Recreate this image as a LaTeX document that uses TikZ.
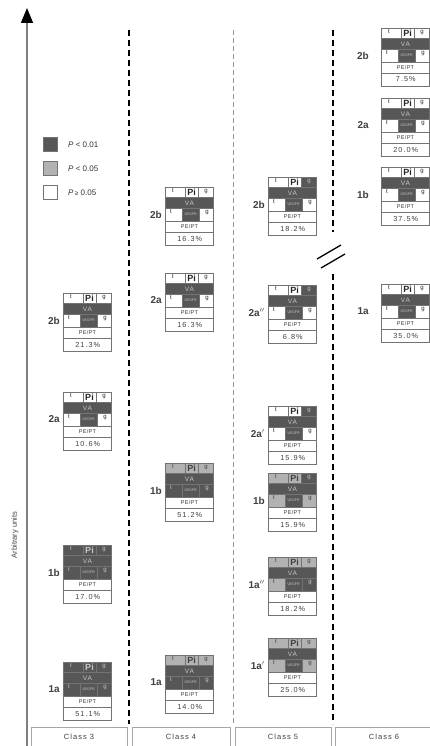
\documentclass[tikz,border=0pt]{standalone}
\usepackage{fontspec}
\setmainfont{Liberation Sans}
\newfontfamily\spfont[LetterSpace=14]{Liberation Sans}
\newfontfamily\pefont[LetterSpace=6]{Liberation Sans}
\usetikzlibrary{arrows.meta}
\colorlet{cD}{black!66}
\colorlet{cL}{black!30}
\colorlet{cW}{white}
\colorlet{xD}{black!22}
\colorlet{xL}{black!75}
\colorlet{xW}{black!85}
\colorlet{bord}{black!55}
\tikzset{
  celltxt/.style={inner sep=0pt, font=\fontsize{6}{6}\selectfont},
  pitxt/.style={inner sep=0pt, font=\bfseries\fontsize{9}{9}\selectfont},
  vegtxt/.style={inner sep=0pt, font=\fontsize{3.6}{3.6}\selectfont},
  vatxt/.style={inner sep=0pt, font=\spfont\fontsize{6.5}{6.5}\selectfont},
  petxt/.style={inner sep=0pt, font=\pefont\fontsize{5.5}{5.5}\selectfont, text=black!80},
  pcttxt/.style={inner sep=0pt, font=\spfont\fontsize{7.3}{7.3}\selectfont, text=black!75},
  labtxt/.style={inner sep=0pt, anchor=east, font=\bfseries\fontsize{10}{10}\selectfont, text=black!75},
  heavydash/.style={line width=1.7pt, dash pattern=on 6pt off 4pt},
  lightdash/.style={line width=0.7pt, black!40, dash pattern=on 5pt off 3pt},
  classbox/.style={draw=black!35, line width=0.6pt, inner sep=0pt},
  classtxt/.style={font=\spfont\fontsize{7.5}{7.5}\selectfont, text=black!75},
  legtxt/.style={anchor=west, inner sep=0pt, font=\fontsize{8}{8}\selectfont, text=black!80},
}
\def\lgap{3}
\newcommand\gbox[5]{\def\gname{#1}\def\gx{#2}\def\gy{#3}\def\glab{#4}\def\gpct{#5}\gboxcolors}
\newcommand\gboxcolors[7]{%
  \begin{scope}[shift={(\gx,\gy)}]
    \path[fill=c#1] (0,0) rectangle (20,10);
    \path[fill=c#2] (20,0) rectangle (33,10);
    \path[fill=c#3] (33,0) rectangle (48,10);
    \path[fill=c#4] (0,10) rectangle (48,21);
    \path[fill=c#5] (0,21) rectangle (17,34);
    \path[fill=c#6] (17,21) rectangle (34,34);
    \path[fill=c#7] (34,21) rectangle (48,34);
    \draw[bord, line width=0.5pt] (0,0) rectangle (48,58)
      (0,10) -- (48,10) (0,21) -- (48,21) (0,34) -- (48,34) (0,45) -- (48,45)
      (20,0) rectangle (33,10) (17,21) rectangle (34,34);
    \node[celltxt, text=x#1] (\gname-t1) at (8,4) {t};
    \node[pitxt, text=x#2] (\gname-pi) at (26.5,5.5) {Pi};
    \node[celltxt, text=x#3] (\gname-g1) at (41,4.5) {g};
    \node[vatxt, text=x#4] (\gname-va) at (24.5,15.8) {VA};
    \node[celltxt, text=x#5] (\gname-t3) at (6,25) {t};
    \node[vegtxt, text=x#6] (\gname-ve) at (25.5,27.5) {VEGFR};
    \node[celltxt, text=x#7] (\gname-g3) at (42,26) {g};
    \node[petxt] (\gname-pe) at (24.5,39.7) {PE/PT};
    \node[pcttxt] (\gname-pc) at (24.8,51.5) {\gpct\%};
    \node[labtxt] (\gname-lab) at (-\lgap,27.5) {\glab};
  \end{scope}}
\begin{document}
\begin{tikzpicture}[x=1pt,y=-1pt]
\useasboundingbox (0,0) rectangle (430,746);
% axis
\coordinate (axb) at (27,746);
\coordinate (axt) at (27,8);
\draw[black!50, line width=1.6pt, -{Triangle[length=15pt,width=12pt,color=black,fill=black]}] (axb) -- (axt);
\node[rotate=90, inner sep=0pt, font=\fontsize{7.5}{7.5}\selectfont, text=black!75] (ylab) at (15,535) {Arbitrary units};
% legend
\node[draw=black!55, fill=cD, minimum size=14pt, inner sep=0pt] (lg1) at (50,144) {};
\node[draw=black!55, fill=cL, minimum size=14pt, inner sep=0pt] (lg2) at (50,168) {};
\node[draw=black!55, fill=white, minimum size=14pt, inner sep=0pt] (lg3) at (50,192) {};
\node[legtxt] (lt1) at (68,145) {\textit{P} < 0.01};
\node[legtxt] (lt2) at (68,169) {\textit{P} < 0.05};
\node[legtxt] (lt3) at (68,193) {\textit{P}\,{\fontsize{6.5}{6.5}\selectfont≥} 0.05};
% separators
\coordinate (d1t) at (129,30); \coordinate (d1b) at (129,724);
\coordinate (d2t) at (233,30); \coordinate (d2b) at (233,724);
\coordinate (d3t) at (333,30); \coordinate (d3m) at (333,232);
\coordinate (d3n) at (333,274); \coordinate (d3b) at (333,724);
\draw[heavydash] (d1t) -- (d1b);
\draw[lightdash] (d2t) -- (d2b);
\draw[heavydash] (d3t) -- (d3m);
\draw[heavydash] (d3n) -- (d3b);
\coordinate (br1a) at (317,259); \coordinate (br1b) at (341,245);
\coordinate (br2a) at (321,268); \coordinate (br2b) at (345,254);
\draw[line width=1.3pt] (br1a) -- (br1b);
\draw[line width=1.3pt] (br2a) -- (br2b);
% class labels
\node[classbox, minimum width=96pt, minimum height=20pt] (c3) at (79,737) {};
\node[classbox, minimum width=98pt, minimum height=20pt] (c4) at (181,737) {};
\node[classbox, minimum width=96pt, minimum height=20pt] (c5) at (283,737) {};
\node[classbox, minimum width=97pt, minimum height=20pt] (c6) at (384,737) {};
\node[classtxt] (c3t) at (c3) {Class 3};
\node[classtxt] (c4t) at (c4) {Class 4};
\node[classtxt] (c5t) at (c5) {Class 5};
\node[classtxt] (c6t) at (c6) {Class 6};
% class 3
\gbox{a2b}{63}{293}{2b}{21.3}WWWDWDW
\gbox{a2a}{63}{392}{2a}{10.6}WWWDWDW
\gbox{a1b}{63}{545}{1b}{17.0}DDDDDDD
\gbox{a1a}{63}{662}{1a}{51.1}DDDDDDD
% class 4
\gbox{b2b}{165}{187}{2b}{16.3}WWWDWDW
\gbox{b2a}{165}{273}{2a}{16.3}WWWDWDW
\gbox{b1b}{165}{463}{1b}{51.2}LLLDDDD
\gbox{b1a}{165}{655}{1a}{14.0}LLLDDDD
% class 5
\gbox{c2b}{268}{177}{2b}{18.2}WWDDWDW
\gbox{c2app}{268}{285}{2a$^{\prime\prime}$}{6.8}WWDDWDW
\gbox{c2ap}{268}{406}{2a$^{\prime}$}{15.9}WWDDWDW
\gbox{c1b}{268}{473}{1b}{15.9}LLDDLDL
\gbox{c1app}{268}{557}{1a$^{\prime\prime}$}{18.2}LLLDLDD
\gbox{c1ap}{268}{638}{1a$^{\prime}$}{25.0}LLLDLDL
% class 6
\def\lgap{12}
\gbox{d2b}{381}{28}{2b}{7.5}WWWDWDW
\gbox{d2a}{381}{98}{2a}{20.0}WWWDWDW
\gbox{d1b}{381}{167}{1b}{37.5}WWWDWDW
\gbox{d1a}{381}{284}{1a}{35.0}WWWDWDW
\end{tikzpicture}
\end{document}
